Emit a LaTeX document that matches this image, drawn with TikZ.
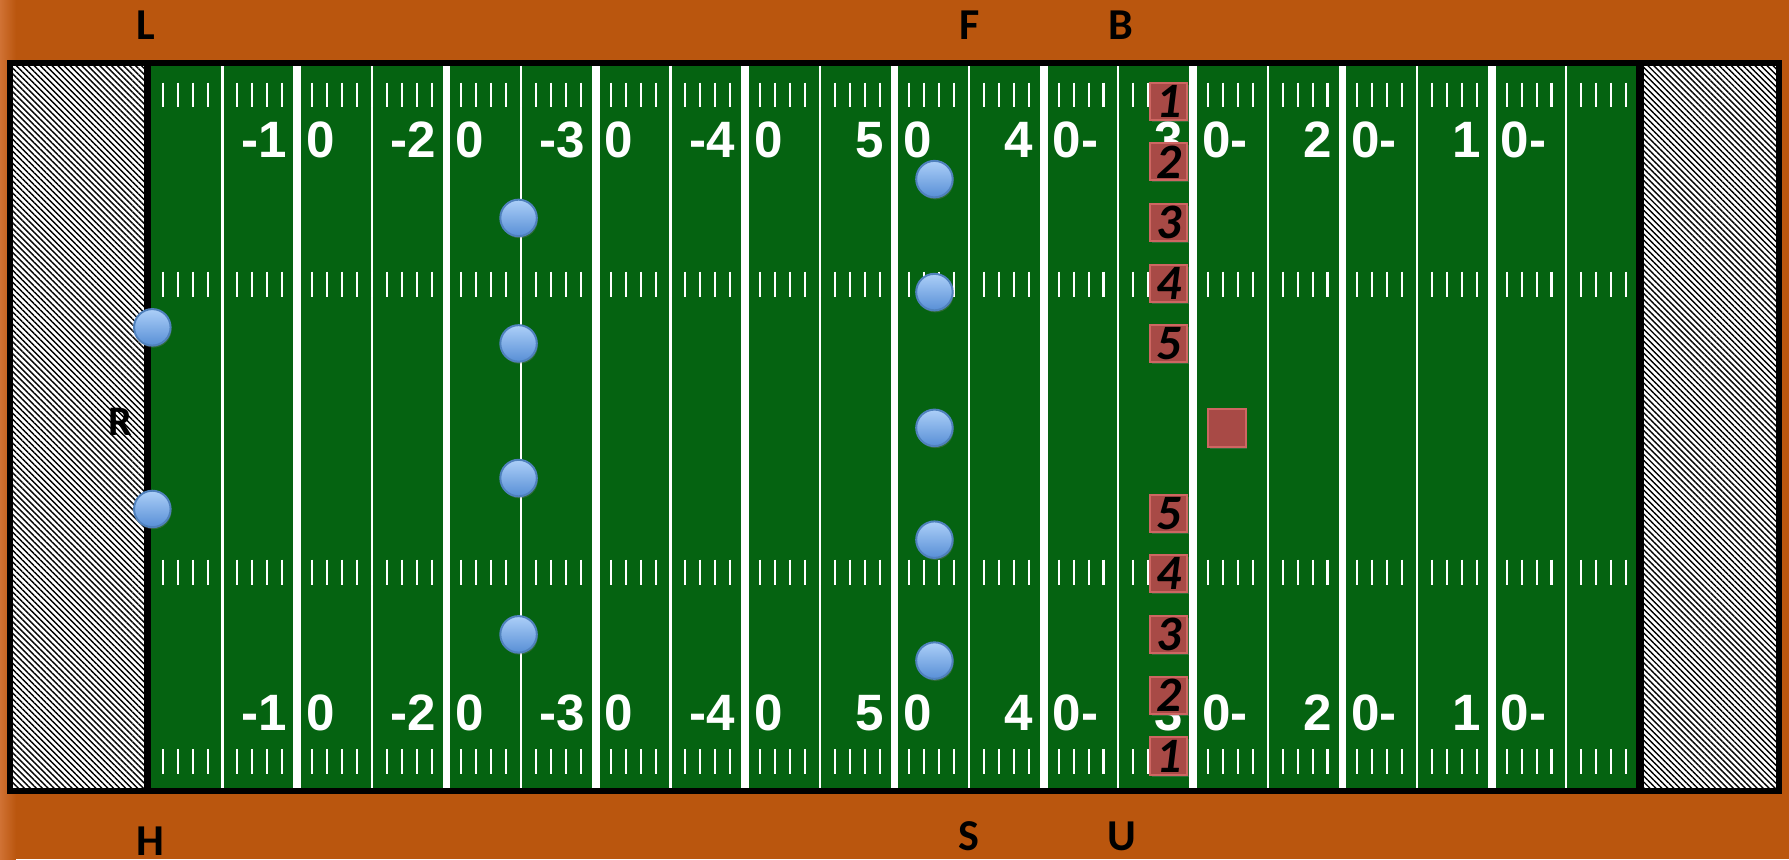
\documentclass[tikz,border=0pt]{standalone}
\usepackage{fontspec}
\setmainfont{Liberation Sans}
\newfontfamily\calfont{Carlito}
\usetikzlibrary{patterns.meta,shadows}

\definecolor{bgorange}{RGB}{186,86,14}
\definecolor{edgeorange}{RGB}{208,114,52}
\definecolor{turf}{RGB}{5,99,17}
\definecolor{boxred}{RGB}{168,74,70}
\definecolor{boxrim}{RGB}{206,102,98}
\definecolor{dotlight}{RGB}{172,207,248}
\definecolor{dotdark}{RGB}{88,143,214}
\definecolor{dotrim}{RGB}{79,129,189}

\begin{document}
\begin{tikzpicture}[
  x=0.2mm, y=-0.2mm,
  yardnum/.style={white,inner sep=0pt,font=\bfseries\fontsize{25.5}{26}\selectfont},
  side/.style={inner sep=0pt,font=\calfont\bfseries\fontsize{22}{24}\selectfont},
  player/.style={circle,draw=dotrim,line width=0.35mm,top color=dotlight,bottom color=dotdark,
    minimum size=6.4mm,inner sep=0pt,drop shadow={opacity=0.35,shadow xshift=0.5pt,shadow yshift=-1pt}},
  blocker/.style={rectangle,fill=boxred,draw=boxrim,line width=0.35mm,minimum size=6.5mm,inner sep=0pt,
    font=\calfont\bfseries\itshape\fontsize{24.7}{25}\selectfont,
    drop shadow={opacity=0.35,shadow xshift=0.8pt,shadow yshift=-1pt}},
  endzone/.style={preaction={fill=white},pattern={Lines[angle=-45,distance=2.1pt,line width=0.7pt]}}
]
\useasboundingbox (0,0) rectangle (1568,753);
\fill[bgorange] (0,0) rectangle (1568,753);
\shade[left color=edgeorange,right color=bgorange] (0,0) rectangle (14,753);

\fill[turf] (129,55) rectangle (1438,693);
\path[endzone] (8.8,55) rectangle (129,693);
\path[endzone] (1438,55) rectangle (1559.3,693);

\foreach \k in {2,4,...,18}
  \draw[white,line width=1.34mm] ({129.56+65.44*\k},56) -- ({129.56+65.44*\k},692);
\foreach \k in {1,3,...,19}
  \draw[white,line width=0.36mm] ({129.56+65.44*\k},56) -- ({129.56+65.44*\k},692);
\foreach \s in {0,...,19}
  \foreach \m in {1,...,4}
    \foreach \ya/\yb in {72.5/94,238/260,490.5/512.5,656.5/678}
      \draw[white,line width=0.36mm] ({129.56+65.44*\s+13.088*\m},\ya) -- ({129.56+65.44*\s+13.088*\m},\yb);

\draw[line width=1.3mm] (129.3,55) -- (129.3,693);
\draw[line width=1.3mm] (1437.3,55) -- (1437.3,693);

\foreach \k/\a/\b in {2/-1/0,4/-2/0,6/-3/0,8/-4/0,10/5/0,12/4/0-,14/3/0-,16/2/0-,18/1/0-} {
  \node[yardnum,anchor=base east] (tl\k) at ({129.56+65.44*\k-9},137.9) {\a};
  \node[yardnum,anchor=base west] (tr\k) at ({129.56+65.44*\k+7.5},137.9) {\b};
  \node[yardnum,anchor=base east] (bl\k) at ({129.56+65.44*\k-9},640.4) {\a};
  \node[yardnum,anchor=base west] (br\k) at ({129.56+65.44*\k+7.5},640.4) {\b};
}

\draw[line width=1mm] (8.8,55.2) rectangle (1559.3,693.2);

\node[side] (lL) at (128,22) {L};
\node[side] (lF) at (849.5,22.5) {F};
\node[side] (lB) at (982,22.5) {B};
\node[side] (lH) at (132,737) {H};
\node[side] (lS) at (849.3,733.3) {S};
\node[side] (lU) at (983,733) {U};
\node[side,font=\calfont\bfseries\fontsize{21}{23}\selectfont] (lR) at (105.5,369.4) {R};

\foreach \n/\px/\py in {1/133.5/286.9,2/133.5/446.1,3/454.5/191,4/454.5/301,5/454.5/419,6/454.5/556,
    7/819/157,8/819/256,9/819/375,10/819/473,11/819/579}
  \node[player] (p\n) at (\px,\py) {};

\foreach \i in {1,...,5} {
  \node[blocker] (t\i) at (1024.3,{88.6+53.2*(\i-1)}) {\i};
  \node[blocker] (b\i) at (1024.3,{662.6-53.2*(\i-1)}) {\i};
}
\node[blocker] (c) at (1075.4,375.1) {};
\end{tikzpicture}
\end{document}
